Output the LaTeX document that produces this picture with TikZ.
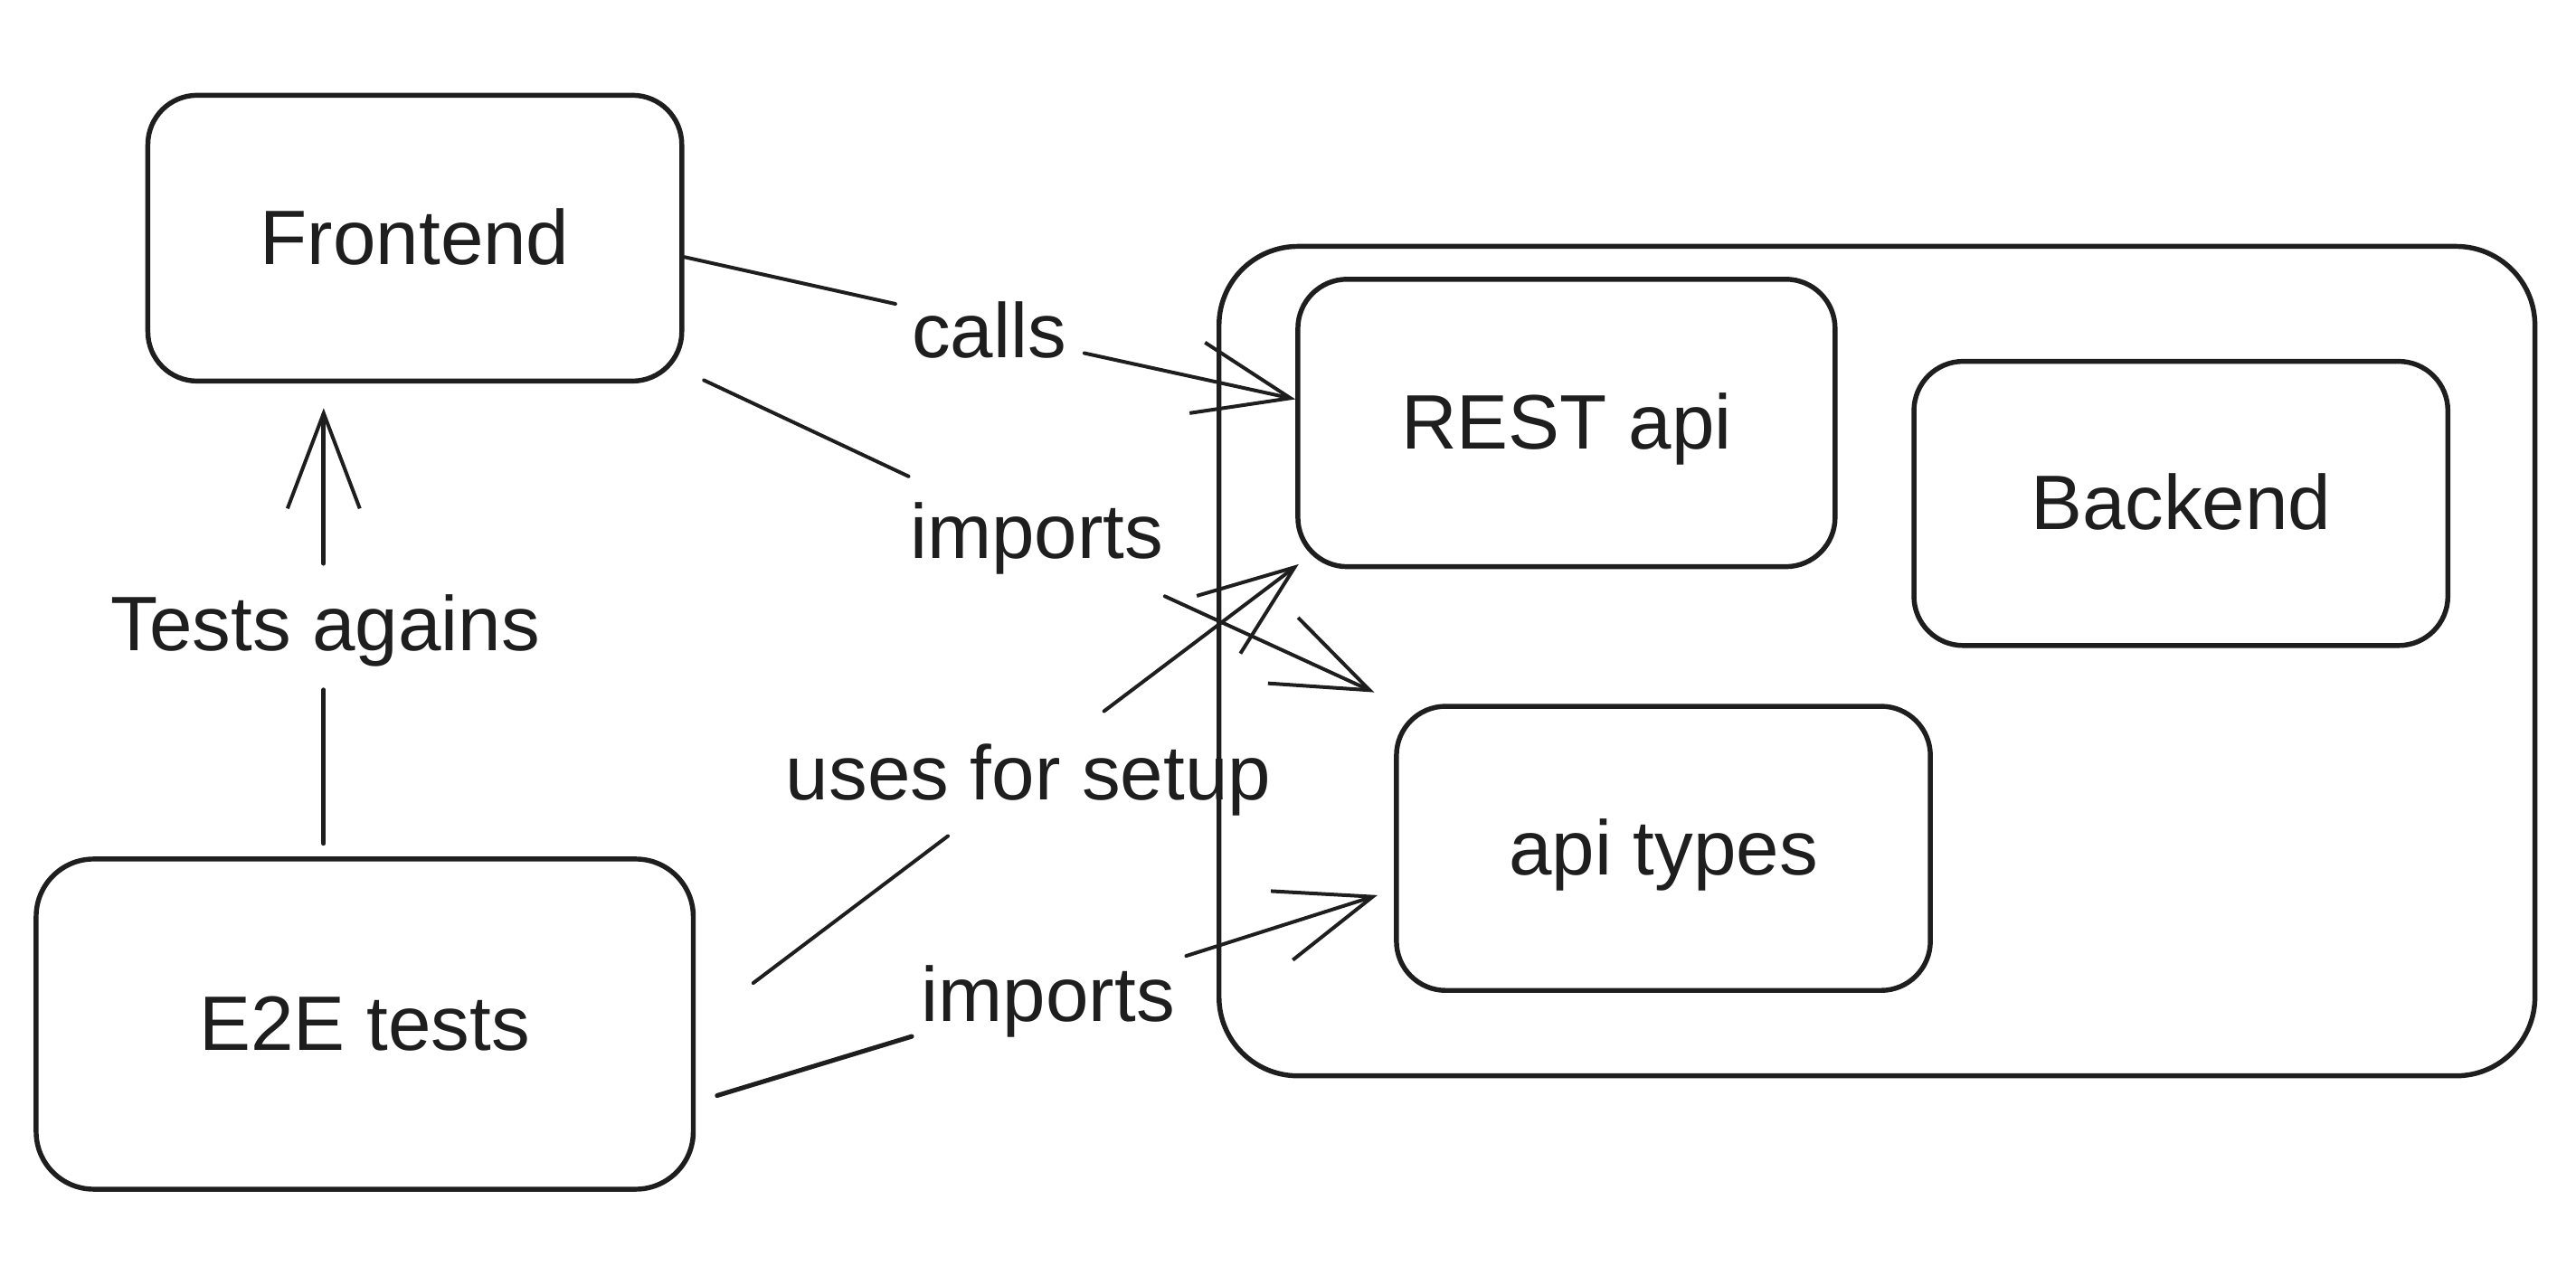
\documentclass[tikz,border=0pt]{standalone}
\usepackage{fontspec}
\setmainfont{Liberation Sans}
\usetikzlibrary{arrows.meta,calc}
\definecolor{ink}{HTML}{1E1E1E}
\begin{document}
\begin{tikzpicture}[x=1pt,y=-1pt,
  box/.style={draw=ink,line width=3pt,rounded corners=30pt,minimum width=325pt,minimum height=174pt,
    font=\fontsize{47}{50}\selectfont,text=ink,text height=33pt,text depth=1pt,inner sep=0pt},
  lbl/.style={font=\fontsize{47}{50}\selectfont,text=ink,anchor=base,inner sep=0pt},
  conn/.style={draw=ink,line width=2.2pt,line cap=round},
  arr/.style={conn,-{Straight Barb[length=58pt,width=44pt,line width=2.2pt]}}]
\useasboundingbox (0,0) rectangle (1568,781.8);
% boxes
\node[box,rounded corners=48pt,minimum width=801pt,minimum height=505pt] (be) at (1142.5,402.5) {};
\node[box] (fe) at (252.5,145) {Frontend};
\node[box,minimum width=327pt,minimum height=175pt] (rest) at (953.5,257.5) {REST api};
\node[box,minimum height=173pt] (bk) at (1327.5,306.5) {Backend};
\node[box,minimum height=173pt] (at) at (1012.5,516.5) {api types};
\node[box,rounded corners=35pt,minimum width=400pt,minimum height=201pt] (e2e) at (222,623.5) {E2E tests};
% labels
\node[lbl] (l1) at (602,218) {calls};
\node[lbl] (l2) at (631,340) {imports};
\node[lbl] (l3) at (626,487) {uses for setup};
\node[lbl] (l4) at (638,622) {imports};
\node[lbl] (l5) at (198,396) {Tests agains};
% coordinates
\coordinate (c1a) at (545,185); \coordinate (c1b) at (660,215);
\coordinate (c2a) at (553,290); \coordinate (c2b) at (709,363);
\coordinate (c3a) at (577,509); \coordinate (c3b) at (672,433);
\coordinate (c4a) at (555,631); \coordinate (c4b) at (722,582);
\coordinate (c5a) at (197,420); \coordinate (c5b) at (197,343);
% connectors
\draw[conn] (fe.-4.6) -- (c1a);
\draw[arr] (c1b) -- (rest.175);
\draw[conn] ($(fe.south east)+(12,-2)$) -- (c2a);
\draw[arr] (c2b) -- ($(at.north west)+(-12,-7)$);
\draw[conn] ($(e2e.north east)+(35,77)$) -- (c3a);
\draw[arr] (c3b) -- ($(rest.south west)+(2,-3)$);
\draw[conn,line width=2.8pt] ($(e2e.east)+(13,43.5)$) -- (c4a);
\draw[arr] (c4b) -- ($(at.west)+(-10,28.5)$);
\draw[conn,line width=2.8pt] ($(e2e.north)+(-25,-8)$) -- (c5a);
\draw[arr,line width=2.8pt] (c5b) -- ($(fe.south)+(-55.5,15)$);
\end{tikzpicture}
\end{document}
